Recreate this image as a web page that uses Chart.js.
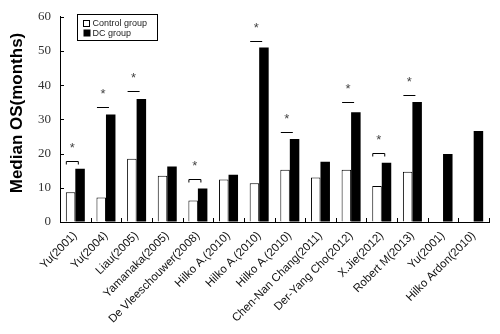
<!DOCTYPE html>
<html>
<head>
<meta charset="utf-8">
<script src="https://cdn.jsdelivr.net/npm/chart.js@4.4.1/dist/chart.umd.min.js"></script>
<style>
html,body{margin:0;padding:0;background:#fff;}
#wrap{width:500px;height:334px;}
</style>
</head>
<body>
<div id="wrap"><canvas id="c" width="500" height="334"></canvas></div>
<script>
const categories = ["Yu(2001)", "Yu(2004)", "Liau(2005)", "Yamanaka(2005)", "De Vleeschouwer(2008)", "Hilko A.(2010)", "Hilko A.(2010)", "Hilko A.(2010)", "Chen-Nan Chang(2011)", "Der-Yang Cho(2012)", "X.Jie(2012)", "Robert M(2013)", "Yu(2001)", "Hilko Ardon(2010)"];
const controlValues = [8.7, 7.2, 18.5, 13.5, 6.3, 12.4, 11.3, 15.3, 13.0, 15.3, 10.5, 14.7, null, null];
const dcValues = [15.6, 31.4, 36.0, 16.2, 9.8, 13.8, 51.0, 24.3, 17.6, 32.1, 17.3, 35.1, 19.9, 26.6];
const sigIndex = [0, 1, 2, 4, 6, 7, 9, 10, 11];
const sigLevel = [17.9, 33.6, 38.4, 12.6, 52.9, 26.3, 35.0, 20.1, 37.2];
const sigBracket = [true, false, false, true, false, false, false, true, false];
const yTicks = [0, 10, 20, 30, 40, 50, 60];
const yTitle = 'Median OS(months)';

const overlay = {
  id: 'overlay',
  afterDraw(chart) {
    const ctx = chart.ctx;
    const x = chart.scales.x, y = chart.scales.y;
    const ca = chart.chartArea;
    ctx.save();
    ctx.strokeStyle = '#000';
    ctx.lineWidth = 1;
    yTicks.forEach(v => {
      const py = Math.round(y.getPixelForValue(v)) + 0.5;
      ctx.beginPath(); ctx.moveTo(ca.left, py); ctx.lineTo(ca.left + 4, py); ctx.stroke();
    });
    const cw = (ca.right - ca.left) / categories.length;
    for (let i = 1; i <= categories.length; i++) {
      const px = Math.round(ca.left + i * cw) + 0.5;
      ctx.beginPath(); ctx.moveTo(px, ca.bottom); ctx.lineTo(px, ca.bottom - 4); ctx.stroke();
    }
    sigIndex.forEach((idx, k) => {
      const cx = x.getPixelForValue(idx);
      const py = Math.round(y.getPixelForValue(sigLevel[k])) + 0.5;
      const x0 = cx - 9, x1 = cx + 3;
      ctx.beginPath();
      if (sigBracket[k]) {
        ctx.moveTo(x0, py + 3); ctx.lineTo(x0, py); ctx.lineTo(x1, py); ctx.lineTo(x1, py + 3);
      } else {
        ctx.moveTo(x0, py); ctx.lineTo(x1, py);
      }
      ctx.stroke();
      ctx.fillStyle = '#444';
      ctx.font = '13px "Liberation Sans", Arial, sans-serif';
      ctx.textAlign = 'center';
      ctx.textBaseline = 'middle';
      ctx.fillText('*', (x0 + x1) / 2, y.getPixelForValue(sigLevel[k] + 4.6) + 3);
    });
    // y axis title
    ctx.save();
    ctx.translate(17, 113);
    ctx.rotate(-Math.PI / 2);
    ctx.fillStyle = '#000';
    ctx.font = 'bold 17px "Liberation Sans", Arial, sans-serif';
    ctx.textAlign = 'center';
    ctx.textBaseline = 'middle';
    ctx.fillText(yTitle, 0, 0);
    ctx.restore();
    // legend
    const lx = 77.5, ly = 14.5;
    ctx.strokeRect(lx, ly, 80, 26);
    ctx.fillStyle = '#fff';
    ctx.fillRect(lx + 6, ly + 6, 6, 6);
    ctx.strokeRect(lx + 6, ly + 6, 6, 6);
    ctx.fillStyle = '#000';
    ctx.fillRect(lx + 6, ly + 15, 7, 7);
    ctx.font = '9px "Liberation Sans", Arial, sans-serif';
    ctx.textAlign = 'left';
    ctx.textBaseline = 'middle';
    ctx.fillStyle = '#222';
    ctx.fillText('Control group', lx + 15, ly + 9);
    ctx.fillText('DC group', lx + 15, ly + 19);
    ctx.restore();
  }
};

new Chart(document.getElementById('c'), {
  type: 'bar',
  data: {
    labels: categories,
    datasets: [
      { label: 'Control group', data: controlValues, backgroundColor: '#fff', borderColor: '#000', borderWidth: 1, borderSkipped: 'bottom' },
      { label: 'DC group', data: dcValues, backgroundColor: '#000', borderColor: '#000', borderWidth: 0 }
    ]
  },
  options: {
    responsive: false,
    animation: false,
    devicePixelRatio: 1,
    layout: { padding: { top: 15, right: 11, left: 0, bottom: 0 } },
    plugins: { legend: { display: false }, tooltip: { enabled: false } },
    datasets: { bar: { categoryPercentage: 0.62, barPercentage: 1.0 } },
    scales: {
      x: {
        grid: { display: true, drawOnChartArea: false, drawTicks: false },
        border: { display: true, color: '#000', width: 1 },
        ticks: {
          autoSkip: false, maxRotation: 45, minRotation: 45, padding: 7,
          color: '#111', font: { family: '"Liberation Sans", Arial, sans-serif', size: 11.5 }
        },
        afterFit(s) { s.height = 112; }
      },
      y: {
        min: 0, max: 60,
        grid: { display: true, drawOnChartArea: false, drawTicks: false },
        border: { display: true, color: '#000', width: 1 },
        ticks: {
          stepSize: 10, padding: 9, color: '#333',
          font: { family: '"Liberation Serif", "Times New Roman", serif', size: 13 }
        },
        afterFit(s) { s.width = 60; }
      }
    }
  },
  plugins: [overlay]
});
</script>
</body>
</html>
